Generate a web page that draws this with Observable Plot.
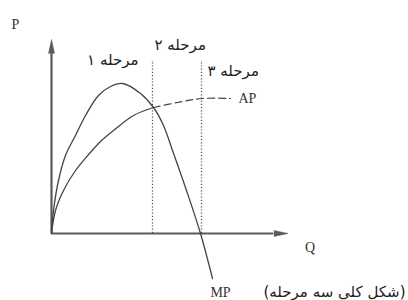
<!DOCTYPE html>
<html>
<head>
<meta charset="utf-8">
<script src="https://cdn.jsdelivr.net/npm/d3@7"></script>
<script src="https://cdn.jsdelivr.net/npm/@observablehq/plot@0.6"></script>
<style>
  html, body { margin: 0; padding: 0; background: #fff; }
</style>
</head>
<body>
<div id="chart"></div>
<script>
// ---- data (Q = quantity of input, P = product) ----
const mpQ = [0, 0.08, 0.28, 0.56, 0.96, 1.36, 1.88, 2.36, 2.84, 3.56, 4.08, 4.48, 4.84, 5.4, 5.96, 6.44];
const mpP = [0, 0.92, 2.12, 3.12, 3.92, 4.72, 5.52, 5.88, 6.0, 5.6, 5.04, 4.32, 3.32, 1.72, 0, -1.8];
const apQ = [0, 0.16, 0.48, 0.96, 1.52, 2.0, 2.48, 3.28, 4.08, 5.04, 6.04, 7.16];
const apP = [0, 0.92, 1.72, 2.52, 3.2, 3.72, 4.12, 4.72, 5.04, 5.24, 5.4, 5.4];
const stageBounds = [4.04, 6.0];   // stage boundaries on Q
const stageTop = 6.92;             // top of the dotted boundary lines
const stageLabels = ["مرحله ۱", "مرحله ۲", "مرحله ۳"];
const axisQEnd = 8.9, axisPEnd = 7.2;
const axisLabels = ["P", "Q"];
const curveLabels = ["MP", "AP"];
const caption = "(شکل کلی سه مرحله)";

const mp = mpQ.map((q, i) => ({q, p: mpP[i]}));
const ap = apQ.map((q, i) => ({q, p: apP[i]}));
const apSolid = ap.filter(d => d.q <= 4.08);
const apDashed = ap.filter(d => d.q >= 4.08);
const mpEnd = mp[mp.length - 1];
const apEnd = ap[ap.length - 1];

const ink = "#444";
const serif = "'Liberation Serif', 'DejaVu Serif', serif";
const persian = "'DejaVu Sans', sans-serif";

const chart = Plot.plot({
  width: 408,
  height: 300,
  margin: 0,
  x: {domain: [-2.04, 14.28], axis: null},
  y: {domain: [-2.68, 9.32], axis: null},
  style: {background: "#fff"},
  marks: [
    // axes
    Plot.ruleY([0], {x1: 0, x2: axisQEnd, stroke: "#5a5a5a", strokeWidth: 2.2}),
    Plot.ruleX([0], {y1: 0, y2: axisPEnd, stroke: "#5a5a5a", strokeWidth: 2.2}),
    Plot.vector([{x: axisQEnd, y: 0}], {x: "x", y: "y", length: 14, rotate: 90, shape: "spike", r: 3, anchor: "start", fill: "#5a5a5a", stroke: "#5a5a5a", strokeWidth: 0.5}),
    Plot.vector([{x: 0, y: axisPEnd}], {x: "x", y: "y", length: 14, rotate: 0, shape: "spike", r: 3, anchor: "start", fill: "#5a5a5a", stroke: "#5a5a5a", strokeWidth: 0.5}),
    // stage boundaries
    Plot.ruleX(stageBounds, {y1: 0, y2: stageTop, stroke: "#555", strokeWidth: 1.3, strokeDasharray: "1.2,2"}),
    // curves
    Plot.line(apSolid, {x: "q", y: "p", curve: "catmull-rom", stroke: ink, strokeWidth: 1.3}),
    Plot.line(apDashed, {x: "q", y: "p", curve: "catmull-rom", stroke: ink, strokeWidth: 1.2, strokeDasharray: "7,4"}),
    Plot.line(mp, {x: "q", y: "p", curve: "catmull-rom", stroke: ink, strokeWidth: 1.3}),
    // stage labels
    Plot.text([stageLabels[0]], {x: () => stageBounds[0], y: () => stageTop, text: d => d, textAnchor: "end", dx: -14, dy: 0, fontFamily: persian, fontSize: 15, fill: "#222"}),
    Plot.text([stageLabels[1]], {x: () => stageBounds[0], y: () => stageTop, text: d => d, textAnchor: "start", dx: 2, dy: -15, fontFamily: persian, fontSize: 15, fill: "#222"}),
    Plot.text([stageLabels[2]], {x: () => stageBounds[1], y: () => stageTop, text: d => d, textAnchor: "start", dx: 6, dy: 11, fontFamily: persian, fontSize: 15, fill: "#222"}),
    // axis labels
    Plot.text([axisLabels[0]], {x: () => 0, y: () => axisPEnd, text: d => d, dx: -36, dy: -29, fontFamily: serif, fontSize: 14, fill: "#333"}),
    Plot.text([axisLabels[1]], {x: () => axisQEnd, y: () => 0, text: d => d, dx: 36, dy: 14, fontFamily: serif, fontSize: 14, fill: "#333"}),
    // curve labels
    Plot.text([curveLabels[1]], {x: () => apEnd.q, y: () => apEnd.p, text: d => d, textAnchor: "start", dx: 8, dy: 0, fontFamily: serif, fontSize: 14, fill: "#333"}),
    Plot.text([curveLabels[0]], {x: () => mpEnd.q, y: () => mpEnd.p, text: d => d, textAnchor: "middle", dx: 8, dy: 14, fontFamily: serif, fontSize: 14, fill: "#333"}),
    Plot.text([caption], {x: () => mpEnd.q, y: () => mpEnd.p, text: d => d, textAnchor: "end", dx: 193, dy: 14, fontFamily: persian, fontSize: 15, fill: "#222"})
  ]
});
document.getElementById("chart").appendChild(chart);
</script>
</body>
</html>
